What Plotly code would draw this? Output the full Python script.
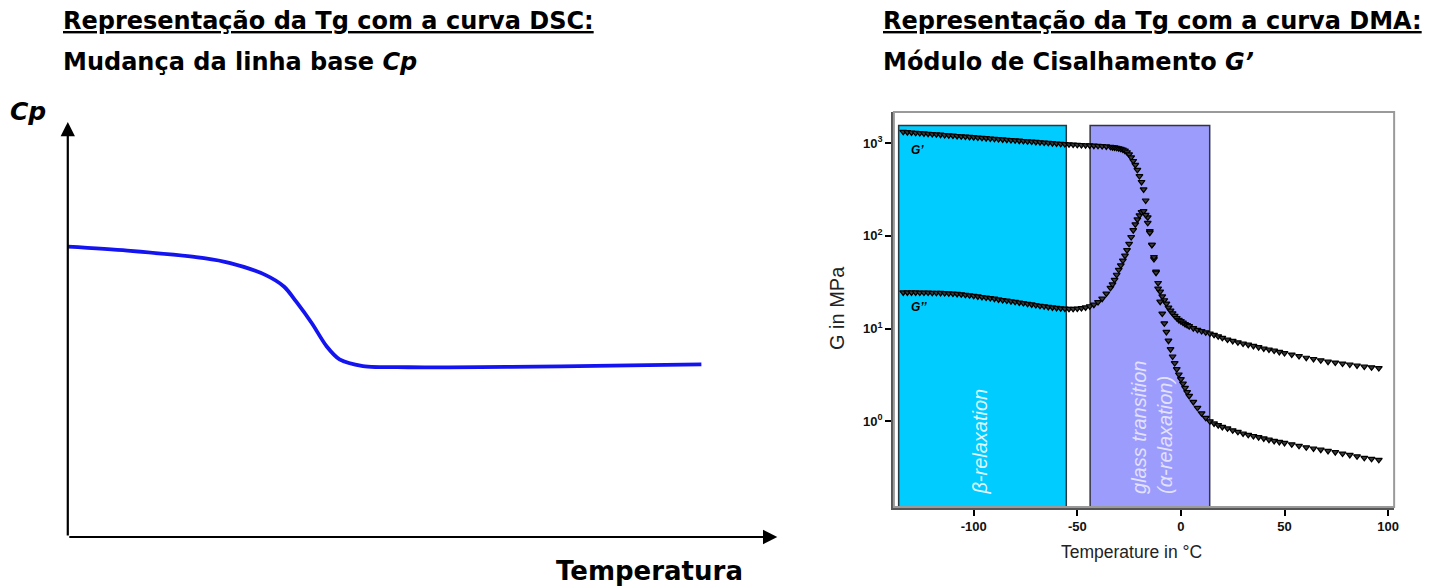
import plotly.graph_objects as go

# page size and the default 8px body margin of the html page
PAGE_W, PAGE_H = 1438, 586
OFF = 8
W, H = PAGE_W - OFF, PAGE_H - OFF

# ---------------- Left chart (DSC schematic) ----------------
dsc_x = [0, 8.4, 19.2, 22.9, 27.9, 30.5, 32.2, 34.4, 36.5, 38.3, 41.6, 48.0, 62.5, 76.8, 89.3]
dsc_cp = [69.95, 69.0, 67.2, 66.0, 63.1, 60.3, 56.7, 51.5, 45.9, 42.8, 41.2, 40.9, 41.0, 41.3, 41.6]

# ---------------- Right chart (DMA) ----------------
temps = [
    -134, -132, -130, -128, -126, -124, -122, -120, -118, -116, -114, -112, -110, -108, -106, -104,
    -102, -100, -98, -96, -94, -92, -90, -88, -86, -84, -82, -80, -78, -76, -74, -72, -70, -68, -66,
    -64, -62, -60, -58, -56, -54, -52, -50, -48, -46, -44, -42, -40, -38, -36, -34,
    -33, -32, -31, -30, -29, -28, -27, -26, -25, -24, -23, -22, -21, -20, -19, -18, -17, -16, -15,
    -14, -13, -12, -11, -10, -9, -8, -7, -6, -5, -4, -3, -2, -1, 0, 1, 2, 3, 4,
    6, 8, 10, 12, 14, 16, 18, 20,
    22.5, 25, 27.5, 30, 32.5, 35, 37.5, 40, 42.5, 45, 47.5, 50,
    53.5, 57, 60.5, 64, 67.5, 71, 74.5, 78, 81.5, 85, 88.5, 92, 95.5,
]
g_storage = [
    1318, 1308, 1298, 1288, 1278, 1268, 1258, 1248, 1238, 1228, 1219, 1209, 1200, 1190, 1181, 1172,
    1163, 1154, 1145, 1136, 1127, 1118, 1110, 1101, 1093, 1084, 1076, 1067, 1059, 1051, 1043, 1035, 1027, 1019, 1011,
    1003, 995, 988, 980, 972, 966, 961, 956, 951, 946, 941, 936, 931, 925, 918, 908,
    902, 895, 887, 877, 865, 848, 826, 795, 755, 700, 640, 580, 513, 440, 380, 316, 240, 158, 112,
    80, 56, 41, 31, 25, 22.2, 20.2, 18.6, 16.8, 15.6, 14.6, 13.7, 13.0, 12.4, 12.0, 11.6, 11.2, 10.9, 10.6,
    10.1, 9.7, 9.4, 9.1, 8.85, 8.55, 8.25, 7.95,
    7.6, 7.35, 7.1, 6.9, 6.7, 6.5, 6.3, 6.1, 5.95, 5.8, 5.6, 5.45,
    5.25, 5.05, 4.85, 4.7, 4.55, 4.4, 4.3, 4.2, 4.1, 4.0, 3.9, 3.82, 3.75,
]
g_loss = [
    24.5, 24.5, 24.5, 24.5, 24.4, 24.4, 24.4, 24.3, 24.3, 24.2, 24.1, 24.0, 23.8, 23.6, 23.4, 23.1,
    22.8, 22.5, 22.2, 21.9, 21.6, 21.3, 21.0, 20.6, 20.3, 20.0, 19.7, 19.4, 19.1, 18.8, 18.5, 18.2, 17.9, 17.6, 17.4,
    17.1, 16.9, 16.7, 16.5, 16.4, 16.3, 16.3, 16.4, 16.6, 16.9, 17.4, 18.1, 19.3, 21.0, 23.8, 27.5,
    30, 33.5, 38, 43, 48, 54, 61, 70, 82, 97, 115, 133, 150, 166, 180, 184, 168, 138, 108,
    80, 59, 40, 27, 19.5, 14.5, 11.4, 9.2, 7.4, 6.0, 5.0, 4.25, 3.65, 3.2, 2.85, 2.55, 2.3, 2.07, 1.88,
    1.62, 1.40, 1.22, 1.09, 1.0, 0.95, 0.91, 0.87,
    0.84, 0.80, 0.77, 0.74, 0.715, 0.695, 0.675, 0.655, 0.635, 0.615, 0.6, 0.585,
    0.565, 0.545, 0.525, 0.51, 0.495, 0.48, 0.465, 0.45, 0.435, 0.42, 0.405, 0.395, 0.385,
]
x_ticks = [-100, -50, 0, 50, 100]
x_ticktext = ["-100", "-50", "0", "50", "100"]
y_ticks = [1, 10, 100, 1000]
y_ticktext = ["10<sup>0</sup>", "10<sup>1</sup>", "10<sup>2</sup>", "10<sup>3</sup>"]
beta_range = [-136.2, -55.3]
glass_range = [-43.8, 13.9]

TITLE_FONT = "DejaVu Sans"


def fx(p):
    """page pixel x -> paper x"""
    return (p - OFF) / W


def fy(p):
    """page pixel y -> paper y"""
    return 1 - (p - OFF) / H


fig = go.Figure()

fig.add_trace(go.Scatter(
    x=dsc_x, y=dsc_cp, mode="lines", line=dict(color="#1414f0", width=3.8, shape="spline", smoothing=0.8),
    xaxis="x", yaxis="y", showlegend=False, hoverinfo="skip"))

marker_style = dict(symbol="triangle-down", size=6, color="#3a3a3a", line=dict(color="black", width=1.2))
fig.add_trace(go.Scatter(x=temps, y=g_storage, mode="markers", marker=marker_style,
                         xaxis="x2", yaxis="y2", showlegend=False, name="G'"))
fig.add_trace(go.Scatter(x=temps, y=g_loss, mode="markers", marker=marker_style,
                         xaxis="x2", yaxis="y2", showlegend=False, name="G''"))

shapes = []
shapes.append(dict(type="rect", xref="x2", yref="y2 domain", x0=beta_range[0], x1=beta_range[1],
                   y0=0, y1=0.966, fillcolor="#00ccff", line=dict(color="#2a3a40", width=1.5), layer="below"))
shapes.append(dict(type="rect", xref="x2", yref="y2 domain", x0=glass_range[0], x1=glass_range[1],
                   y0=0, y1=0.966, fillcolor="#9c9cfc", line=dict(color="#333344", width=1.5), layer="below"))
shapes.append(dict(type="rect", xref="x2 domain", yref="y2 domain", x0=0, x1=1, y0=0, y1=1,
                   line=dict(color="#9a9a9a", width=2), layer="above"))

annotations = []
annotations.append(dict(x=0, y=100, ax=0, ay=0, xref="x", yref="y", axref="x", ayref="y",
                        showarrow=True, arrowhead=2, arrowsize=1.3, arrowwidth=2.2, arrowcolor="black", text=""))
annotations.append(dict(x=100, y=0, ax=0, ay=0, xref="x", yref="y", axref="x", ayref="y",
                        showarrow=True, arrowhead=2, arrowsize=1.3, arrowwidth=2.2, arrowcolor="black", text=""))


def txt(text, x, y, size, family=TITLE_FONT, color="black", xanchor="left", yanchor="middle", **kw):
    annotations.append(dict(text=text, x=fx(x), y=fy(y), xref="paper", yref="paper", showarrow=False,
                            xanchor=xanchor, yanchor=yanchor, font=dict(size=size, family=family, color=color), **kw))


txt("<b><u>Representação da Tg com a curva DSC:</u></b>", 61, 21, 24)
txt("<b>Mudança da linha base <i>Cp</i></b>", 61, 62, 24)
txt("<b><u>Representação da Tg com a curva DMA:</u></b>", 884, 21, 24)
txt("<b>Módulo de Cisalhamento <i>G’</i></b>", 884, 62, 24)
txt("<b><i>Cp</i></b>", 28, 112, 25, xanchor="center")
txt("<b>Temperatura</b>", 652, 571, 26, xanchor="center")

txt("<b><i>G’</i></b>", 912, 150, 12, family="Liberation Sans")
txt("<b><i>G’’</i></b>", 912, 307, 12, family="Liberation Sans")
txt("Temperature in °C", 1135, 552, 17.5, family="Liberation Sans", color="#222222", xanchor="center")
txt("G in MPa", 840, 308, 20, family="Liberation Sans", color="#222222", xanchor="center", textangle=-90)
txt("<i>β-relaxation</i>", 983, 442, 20, family="Liberation Sans", color="#dff6ff", xanchor="center", textangle=-90)
txt("<i>glass transition<br>(α-relaxation)</i>", 1156, 427, 20, family="Liberation Sans", color="#e2e2ff",
    xanchor="center", textangle=-90, align="left")

fig.update_layout(
    width=W, height=H, margin=dict(l=0, r=0, t=0, b=0),
    paper_bgcolor="white", plot_bgcolor="white",
    xaxis=dict(domain=[fx(68), fx(780)], range=[0, 100], visible=False, fixedrange=True),
    yaxis=dict(domain=[fy(537), fy(122)], range=[0, 100], visible=False, fixedrange=True),
    xaxis2=dict(domain=[fx(897), fx(1399)], range=[-138.5, 102.9], anchor="y2",
                tickvals=x_ticks, ticktext=["<b>" + t + "</b>" for t in x_ticktext],
                ticks="outside", ticklen=6, tickwidth=2, tickcolor="black",
                showline=True, linecolor="#555555", linewidth=2.5, showgrid=False, zeroline=False,
                tickfont=dict(family="Liberation Sans", size=13, color="#111111")),
    yaxis2=dict(domain=[fy(507), fy(112)], type="log", range=[-0.923, 3.334], anchor="x2",
                tickvals=y_ticks, ticktext=["<b>" + t + "</b>" for t in y_ticktext],
                ticks="outside", ticklen=6, tickwidth=2, tickcolor="black",
                showline=True, linecolor="#555555", linewidth=2.5, showgrid=False, zeroline=False,
                tickfont=dict(family="Liberation Sans", size=13, color="#111111")),
    shapes=shapes, annotations=annotations,
)

fig.write_html("out.html")
